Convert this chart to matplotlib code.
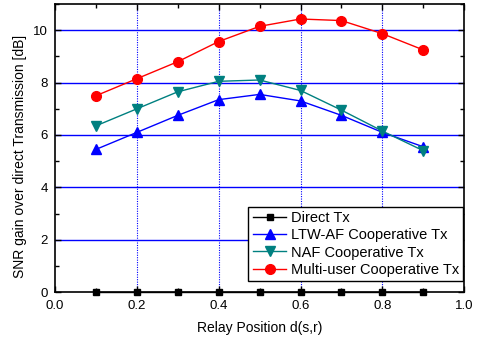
import matplotlib
matplotlib.use("Agg")
import matplotlib.pyplot as plt
from matplotlib.ticker import MultipleLocator

plt.rcParams['font.family'] = ['Liberation Sans', 'DejaVu Sans']

x = [0.1, 0.2, 0.3, 0.4, 0.5, 0.6, 0.7, 0.8, 0.9]
direct = [0, 0, 0, 0, 0, 0, 0, 0, 0]
ltw_af = [5.45, 6.1, 6.75, 7.35, 7.55, 7.3, 6.75, 6.1, 5.55]
naf = [6.35, 7.0, 7.65, 8.05, 8.1, 7.7, 6.95, 6.15, 5.4]
multi = [7.5, 8.15, 8.8, 9.57, 10.15, 10.43, 10.37, 9.87, 9.25]

fig = plt.figure(figsize=(4.79, 3.4), dpi=100)
ax = fig.add_axes([0.115, 0.141, 0.854, 0.847])

for yv in [2, 4, 6, 8, 10]:
    ax.axhline(yv, color='#0000ff', lw=1.0, zorder=1)
for xv in [0.2, 0.4, 0.6, 0.8]:
    ax.axvline(xv, color='#0000ff', lw=0.8, ls=(0, (1, 1.2)), zorder=1)

ax.plot(x, direct, color='black', marker='s', ms=5, lw=1, label='Direct Tx', zorder=3, clip_on=False)
ax.plot(x, ltw_af, color='#0000ff', marker='^', ms=7, lw=1, label='LTW-AF Cooperative Tx', zorder=3)
ax.plot(x, naf, color='#008080', marker='v', ms=7, lw=1, label='NAF Cooperative Tx', zorder=3)
ax.plot(x, multi, color='#ff0000', marker='o', ms=7, lw=1, label='Multi-user Cooperative Tx', zorder=3)

ax.set_xlim(0, 1.0)
ax.set_ylim(0, 11)
ax.xaxis.set_major_locator(MultipleLocator(0.2))
ax.xaxis.set_minor_locator(MultipleLocator(0.1))
ax.yaxis.set_major_locator(MultipleLocator(2))
ax.yaxis.set_minor_locator(MultipleLocator(1))
ax.set_xticklabels([f"{v:.1f}" for v in ax.get_xticks()])
ax.tick_params(which='both', direction='in', top=True, right=True, labelsize=9.5)
ax.tick_params(axis='x', pad=6)
ax.tick_params(axis='y', pad=5)
ax.tick_params(which='major', length=4, width=1)
ax.tick_params(which='minor', length=3, width=1)
for s in ax.spines.values():
    s.set_linewidth(1.2)

ax.set_xlabel('Relay Position d(s,r)', fontsize=10, labelpad=6)
ax.set_ylabel('SNR gain over direct Transmission [dB]', fontsize=10)
ax.yaxis.set_label_coords(-0.068, 0.47)

leg = ax.legend(loc='lower right', bbox_to_anchor=(0.998, 0.038), fontsize=10.5, fancybox=False,
                edgecolor='black', framealpha=1, borderpad=0.3, labelspacing=0.22,
                handlelength=2.3, handletextpad=0.3, borderaxespad=0)
leg.get_frame().set_linewidth(1.0)

fig.savefig('out.png', dpi=100)
